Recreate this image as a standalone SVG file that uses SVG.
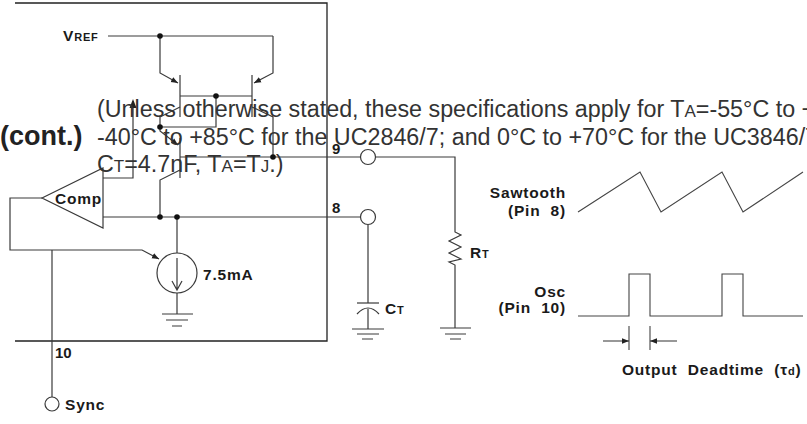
<svg xmlns="http://www.w3.org/2000/svg" width="807" height="424" viewBox="0 0 807 424">
<defs>
<style>
.ln{fill:none;stroke:#3a3a3a;stroke-width:1.2}
.bx{fill:none;stroke:#222;stroke-width:1.3}
.wv{fill:none;stroke:#444;stroke-width:1.1}
.dot{fill:#111}
.pin{fill:#fff;stroke:#3a3a3a;stroke-width:1.2}
.lb{font-family:"Liberation Sans",Arial,sans-serif;font-weight:bold;font-size:15.5px;fill:#1a1a1a;letter-spacing:0.8px;white-space:pre}
.pn{font-family:"Liberation Sans",Arial,sans-serif;font-weight:bold;font-size:15px;fill:#1a1a1a}
.ov{font-family:"Liberation Sans",Arial,sans-serif;font-size:23.3px;fill:#333}
</style>
<marker id="ah" viewBox="0 0 10 10" refX="10" refY="5" markerWidth="7" markerHeight="7" markerUnits="userSpaceOnUse" orient="auto">
<path d="M0,1 L10,5 L0,9 Z" fill="#222"/>
</marker>
</defs>

<g id="package-box">
<path class="bx" d="M15,3 H327 V341 H15"/>
</g>

<g id="connectors">
<path class="ln" d="M108,36 H273"/>
<path class="ln" d="M160,36 V73 L178,83" marker-end="url(#ah)"/>
<path class="ln" d="M273,36 V73 L254,83" marker-end="url(#ah)"/>
<path class="ln" d="M180,75 V117 M252,75 V117"/>
<path class="ln" d="M180,96 H252"/>
<path class="ln" d="M216,96 V127 H160"/>
<path class="ln" d="M180,107 L160,117 V127"/>
<path class="ln" d="M252,107 L273,117 V157"/>
<path class="ln" d="M160,127 V131 L178,145" marker-end="url(#ah)"/>
<path class="ln" d="M180,138 V178"/>
<path class="ln" d="M180,170 L160,180 V217"/>
<path class="ln" d="M180,157 H361"/>
<path class="ln" d="M133,101 V178 H103"/>
<path d="M133,99 L129.5,108 H136.5 Z" fill="#222"/>
<path class="ln" d="M103,217 H361"/>
<path class="ln" d="M177,217 V253 M177,293 V314"/>
<path class="ln" d="M42,198 H10 V250 H142 L159,259" marker-end="url(#ah)"/>
<path class="ln" d="M52,250 V397"/>
<path class="ln" d="M375,157 H455 V232 L461,235 L449,241 L461,247 L449,253 L461,259 L449,262 L455,265 V328"/>
<path class="ln" d="M368,225 V303 M368,309 V329"/>
</g>

<g id="dots">
<circle class="dot" cx="160" cy="36" r="2.8"/>
<circle class="dot" cx="216" cy="96" r="2.8"/>
<circle class="dot" cx="160" cy="127" r="2.8"/>
<circle class="dot" cx="273" cy="157" r="2.8"/>
<circle class="dot" cx="160" cy="217" r="2.8"/>
<circle class="dot" cx="177" cy="217" r="2.8"/>
</g>

<g id="vref-label">
<text class="lb" x="63" y="41">V<tspan font-size="11">REF</tspan></text>
</g>

<g id="comparator">
<path class="ln" d="M42,198 L103,168 V228 Z" fill="#fff"/>
<text class="lb" x="55" y="204" letter-spacing="0">Comp</text>
</g>

<g id="current-source">
<circle class="ln" cx="177" cy="273" r="20"/>
<path class="ln" d="M177,258 V290 M172,281 L177,290 L182,281"/>
<text class="lb" x="203" y="280" letter-spacing="0.5">7.5mA</text>
<path class="ln" d="M162,314 H193 M166,320 H188 M172,326 H182"/>
</g>

<g id="pin9">
<circle class="pin" cx="368" cy="157" r="7.5"/>
<text class="pn" x="332" y="154">9</text>
</g>

<g id="pin8">
<circle class="pin" cx="368" cy="217" r="7.5"/>
<text class="pn" x="332" y="213">8</text>
</g>

<g id="pin10-sync">
<text class="pn" x="55" y="358">10</text>
<circle class="pin" cx="52" cy="404" r="7"/>
<text class="lb" x="65" y="410">Sync</text>
</g>

<g id="rt">
<text class="lb" x="470" y="258">R<tspan font-size="11">T</tspan></text>
<path class="ln" d="M440,328 H471 M445,334 H466 M450,339 H461"/>
</g>

<g id="ct">
<path class="ln" d="M357,303 H379"/>
<path class="ln" d="M357,314 Q368,302 379,314"/>
<text class="lb" x="385" y="314">C<tspan font-size="11">T</tspan></text>
<path class="ln" d="M352,329 H384 M357,334 H379 M362,339 H373"/>
</g>

<g id="sawtooth">
<text class="lb" x="566" y="198" text-anchor="end">Sawtooth</text>
<text class="lb" x="566" y="216" text-anchor="end">(Pin  8)</text>
<path class="wv" d="M578,212 L640,172 L661,212 L722,172 L743,212 L803,172"/>
</g>

<g id="osc">
<text class="lb" x="566" y="297" text-anchor="end">Osc</text>
<text class="lb" x="566" y="313" text-anchor="end">(Pin  10)</text>
<path class="wv" d="M578,316 H629 V274 H650 V316 H722 V274 H743 V316 H803"/>
</g>

<g id="deadtime">
<path class="wv" d="M629,326 V350 M650,326 V350"/>
<path class="wv" d="M603,341 H629" marker-end="url(#ah)"/>
<path class="wv" d="M677,341 H650" marker-end="url(#ah)"/>
<text class="lb" x="622" y="375">Output  Deadtime  (τ<tspan font-size="11">d</tspan>)</text>
</g>

<g id="overlay-text">
<text class="ov" x="97" y="117">(Unless otherwise stated, these specifications apply for T<tspan font-size="17">A</tspan>=-55°C to +125°C for the UC1846/7;</text>
<text class="ov" x="97" y="145">-40°C to +85°C for the UC2846/7; and 0°C to +70°C for the UC3846/7;</text>
<text class="ov" x="97" y="172">C<tspan font-size="17">T</tspan>=4.7nF, T<tspan font-size="17">A</tspan>=T<tspan font-size="17">J</tspan>.)</text>
<text x="0" y="145" font-family="Liberation Sans, Arial, sans-serif" font-weight="bold" font-size="27" fill="#222">(cont.)</text>
</g>
</svg>
